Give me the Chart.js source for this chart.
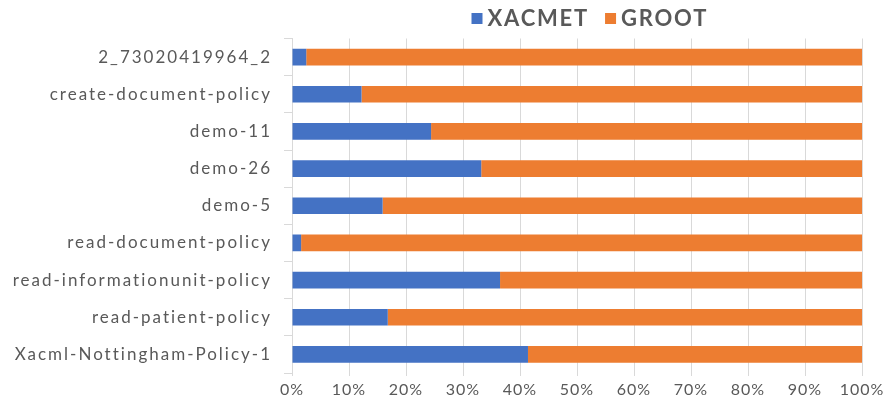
<!DOCTYPE html>
<html><head><meta charset="utf-8">
<script src="https://cdn.jsdelivr.net/npm/chart.js@4/dist/chart.umd.min.js"></script>
<style>html,body{margin:0;padding:0;background:#fff}canvas{display:block}</style>
</head><body>
<canvas id="c" width="887" height="411"></canvas>
<script>
const categories = ["2_73020419964_2","create-document-policy","demo-11","demo-26","demo-5","read-document-policy","read-informationunit-policy","read-patient-policy","Xacml-Nottingham-Policy-1"];
const xacmet = [2.5, 12.2, 24.4, 33.2, 15.9, 1.6, 36.5, 16.8, 41.4];
const groot  = [97.5, 87.8, 75.6, 66.8, 84.1, 98.4, 63.5, 83.2, 58.6];
const xTicks = [0,10,20,30,40,50,60,70,80,90,100];

const FONT = "Lato, 'Liberation Sans', sans-serif";
const TXT = '#595959';

// Draw scale labels with letter spacing, and a compact legend at the top
const spacingPlugin = {
  id: 'spacing',
  beforeDraw(chart) {
    const sp = {x: '1px', y: '2px'};
    for (const id of ['x', 'y']) {
      const s = chart.scales[id];
      if (s && !s._spPatched) {
        const orig = s.drawLabels;
        s.drawLabels = function (area) {
          const ctx = this.ctx; ctx.save(); ctx.letterSpacing = sp[id];
          orig.call(this, area); ctx.restore();
        };
        s._spPatched = true;
      }
    }
  },
  afterDraw(chart) {
    const ctx = chart.ctx;
    ctx.save();
    ctx.font = `bold 22px ${FONT}`;
    ctx.letterSpacing = '1.8px';
    ctx.textBaseline = 'middle';
    ctx.textAlign = 'left';
    const box = 11, gap = 5, itemGap = 16, yMid = 18.5;
    const items = chart.data.datasets.map(d => ({label: d.label, color: d.backgroundColor, w: ctx.measureText(d.label).width}));
    let x = 471.5;
    for (const it of items) {
      ctx.fillStyle = it.color;
      ctx.fillRect(x, yMid - box / 2, box, box);
      x += box + gap;
      ctx.fillStyle = TXT;
      ctx.fillText(it.label, x, yMid);
      x += it.w + itemGap;
    }
    ctx.restore();
  }
};

new Chart(document.getElementById('c'), {
  type: 'bar',
  data: {
    labels: categories,
    datasets: [
      {label: 'XACMET', data: xacmet, backgroundColor: '#4472C4', barPercentage: 0.9, categoryPercentage: 0.5},
      {label: 'GROOT', data: groot, backgroundColor: '#ED7D31', barPercentage: 0.9, categoryPercentage: 0.5}
    ]
  },
  plugins: [spacingPlugin],
  options: {
    indexAxis: 'y',
    responsive: false,
    animation: false,
    layout: {padding: {left: 0, right: 25, top: 38.5, bottom: 6}},
    plugins: {
      legend: {display: false},
      tooltip: {enabled: false}
    },
    scales: {
      x: {
        stacked: true, min: 0, max: 100,
        afterBuildTicks: s => { s.ticks = xTicks.map(v => ({value: v})); },
        ticks: {callback: v => v + '%', color: TXT, font: {family: FONT, size: 16}, padding: 4},
        grid: {color: '#d9d9d9', tickLength: 3},
        border: {display: false},
        afterFit: s => { s.height = 32; }
      },
      y: {
        stacked: true,
        ticks: {color: TXT, font: {family: FONT, size: 17}, padding: 12},
        grid: {offset: true, drawOnChartArea: false, color: '#d9d9d9', tickLength: 8},
        border: {display: true, color: '#d9d9d9'},
        afterFit: s => { s.width = 292; }
      }
    }
  }
});
</script>
</body></html>
